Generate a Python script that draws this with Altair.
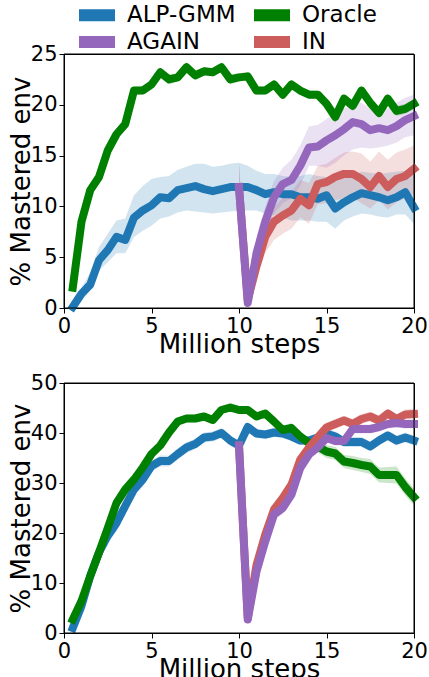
import altair as alt
import pandas as pd

SERIES = ["ALP-GMM", "Oracle", "AGAIN", "IN"]
COLORS = ["#1f77b4", "#008000", "#9467bd", "#cd5c5c"]

STEPS = [0.5, 1.0, 1.5, 2.0, 2.5, 3.0, 3.5, 4.0, 4.5, 5.0,
         5.5, 6.0, 6.5, 7.0, 7.5, 8.0, 8.5, 9.0, 9.5, 10.0,
         10.5, 11.0, 11.5, 12.0, 12.5, 13.0, 13.5, 14.0, 14.5, 15.0,
         15.5, 16.0, 16.5, 17.0, 17.5, 18.0, 18.5, 19.0, 19.5, 20.0]
STEPS_FT = [10.0, 10.5, 11.0, 11.5, 12.0, 12.5, 13.0, 13.5, 14.0, 14.5, 15.0,
            15.5, 16.0, 16.5, 17.0, 17.5, 18.0, 18.5, 19.0, 19.5, 20.0]

# ---- top panel ----
TOP_ALP = [0.1, 1.4, 2.3, 4.7, 5.7, 7.0, 6.7, 8.9, 9.6, 10.1,
           10.9, 10.8, 11.6, 11.8, 12.0, 11.7, 11.5, 11.7, 11.9, 11.9,
           11.9, 11.6, 11.2, 11.4, 11.2, 11.2, 10.9, 10.9, 10.75, 11.1,
           9.8, 10.4, 10.9, 11.3, 11.1, 10.9, 10.6, 10.9, 11.4, 9.9]
TOP_ALP_LO = [0.0, 1.0, 1.8, 3.7, 4.5, 5.4, 5.4, 7.0, 7.6, 8.1,
              8.8, 9.0, 9.4, 9.6, 9.5, 9.4, 9.3, 9.4, 9.5, 9.6,
              9.6, 9.6, 9.3, 9.1, 8.9, 8.6, 8.6, 8.6, 8.5, 8.5,
              7.8, 8.6, 9.0, 9.3, 9.2, 9.0, 8.9, 9.2, 9.2, 8.3]
TOP_ALP_HI = [0.3, 2.0, 3.5, 6.0, 7.3, 8.6, 8.8, 11.1, 12.0, 12.7,
              12.9, 13.0, 13.6, 13.9, 14.2, 14.2, 13.9, 14.0, 14.2, 14.3,
              14.0, 13.5, 13.2, 13.2, 13.0, 12.9, 13.0, 13.2, 13.0, 12.9,
              12.4, 12.9, 13.1, 13.4, 13.3, 13.2, 13.3, 13.4, 13.5, 13.4]

TOP_ORACLE = [2.0, 8.5, 11.6, 12.9, 15.5, 17.1, 18.1, 21.4, 21.4, 22.0,
              23.2, 22.5, 22.7, 23.7, 22.9, 23.3, 23.2, 23.7, 22.5, 22.7,
              22.8, 21.4, 21.4, 22.0, 21.0, 22.0, 21.4, 21.0, 21.0, 20.1,
              18.8, 20.6, 19.9, 21.4, 20.2, 19.2, 20.6, 19.4, 19.6, 20.1]
TOP_ORACLE_LO = [1.8, 8.2, 11.2, 12.5, 15.1, 16.7, 17.7, 21.0, 21.0, 21.6,
                 22.8, 22.0, 22.3, 23.2, 22.4, 22.9, 22.8, 23.3, 22.0, 22.3,
                 22.4, 21.0, 21.0, 21.6, 20.6, 21.6, 21.0, 20.6, 20.6, 19.6,
                 18.2, 20.1, 19.4, 20.9, 19.7, 18.7, 20.1, 18.9, 19.1, 19.6]
TOP_ORACLE_HI = [2.2, 8.8, 12.0, 13.3, 15.9, 17.5, 18.5, 21.8, 21.8, 22.4,
                 23.6, 23.0, 23.1, 24.2, 23.4, 23.7, 23.6, 24.1, 23.0, 23.1,
                 23.2, 21.8, 21.8, 22.4, 21.4, 22.4, 21.8, 21.4, 21.4, 20.6,
                 19.4, 21.1, 20.4, 21.9, 20.7, 19.7, 21.1, 19.9, 20.1, 20.6]

TOP_AGAIN = [11.9, 0.5, 5.4, 8.5, 10.9, 12.2, 12.6, 14.0, 15.8, 15.9, 16.5,
             17.0, 17.6, 18.3, 18.1, 17.5, 17.7, 17.5, 17.9, 18.5, 18.9]
TOP_AGAIN_LO = [9.6, 0.3, 3.7, 6.5, 9.3, 10.3, 10.8, 12.0, 14.0, 14.0, 13.8,
                14.3, 15.0, 15.6, 15.8, 15.7, 15.8, 16.0, 16.3, 16.8, 17.0]
TOP_AGAIN_HI = [14.3, 0.8, 7.0, 10.0, 12.5, 13.8, 14.6, 16.0, 17.9, 18.0, 18.6,
                19.2, 19.6, 20.2, 20.2, 19.6, 19.8, 19.6, 20.2, 20.7, 21.0]

TOP_IN = [11.9, 0.8, 4.1, 7.0, 8.5, 9.1, 9.6, 10.75, 10.1, 12.2, 12.4,
          12.9, 13.2, 13.2, 12.7, 11.9, 13.0, 11.9, 12.7, 13.0, 13.7]
TOP_IN_LO = [9.6, 0.4, 3.0, 5.4, 6.7, 7.3, 7.8, 8.9, 8.3, 10.2, 10.3,
             10.6, 10.8, 10.9, 10.3, 9.8, 10.6, 9.7, 10.4, 10.8, 11.2]
TOP_IN_HI = [14.3, 1.2, 6.0, 8.6, 9.9, 10.8, 11.4, 12.6, 12.3, 14.0, 14.2,
             14.8, 15.3, 15.4, 15.2, 14.4, 15.4, 14.6, 15.3, 15.6, 16.0]

# ---- bottom panel ----
BOT_ALP = [1.0, 5.4, 11.4, 16.1, 19.4, 22.0, 25.4, 28.7, 30.7, 33.4,
           34.4, 34.4, 35.8, 37.1, 37.8, 39.1, 39.3, 40.0, 38.5, 37.5,
           41.2, 39.9, 39.7, 40.1, 39.9, 39.3, 38.5, 38.5, 39.1, 39.9,
           39.3, 38.2, 38.2, 38.2, 37.3, 38.5, 39.5, 38.5, 39.1, 38.5]
BOT_ALP_LO = [0.6, 4.9, 10.8, 15.3, 18.2, 20.3, 23.9, 27.6, 29.7, 32.3,
              33.3, 33.3, 34.7, 36.0, 36.8, 38.1, 38.3, 39.0, 37.4, 36.6,
              40.3, 39.0, 38.8, 39.2, 39.0, 38.4, 37.6, 37.6, 38.2, 39.0,
              38.3, 37.2, 37.2, 37.2, 36.3, 37.5, 38.5, 37.5, 38.1, 37.5]
BOT_ALP_HI = [1.4, 5.9, 12.0, 16.9, 20.6, 23.7, 26.9, 29.8, 31.7, 34.5,
              35.5, 35.5, 36.9, 38.2, 38.8, 40.1, 40.3, 41.0, 39.6, 38.4,
              42.1, 40.8, 40.6, 41.0, 40.8, 40.2, 39.4, 39.4, 40.0, 40.8,
              40.3, 39.2, 39.2, 39.2, 38.3, 39.5, 40.5, 39.5, 40.1, 39.5]

BOT_ORACLE = [2.7, 6.4, 11.4, 16.1, 21.0, 26.0, 28.7, 30.7, 33.1, 35.8,
              37.5, 40.1, 42.3, 42.9, 42.9, 43.3, 42.6, 44.6, 45.1, 44.6,
              44.6, 43.3, 43.9, 42.3, 40.6, 41.0, 39.3, 38.0, 37.3, 36.3,
              35.9, 34.3, 34.0, 33.6, 33.3, 31.6, 31.6, 31.6, 29.2, 27.2]
BOT_ORACLE_LO = [2.2, 5.8, 10.7, 15.3, 20.2, 25.2, 27.9, 29.9, 32.3, 35.0,
                 36.7, 39.3, 41.5, 42.1, 42.1, 42.5, 41.8, 43.8, 44.3, 43.8,
                 43.8, 42.5, 43.1, 41.4, 39.7, 40.0, 38.3, 36.9, 36.1, 35.0,
                 34.6, 33.0, 32.6, 32.2, 31.8, 30.1, 30.0, 29.9, 27.5, 25.5]
BOT_ORACLE_HI = [3.2, 7.0, 12.1, 16.9, 21.8, 26.8, 29.5, 31.5, 33.9, 36.6,
                 38.3, 40.9, 43.1, 43.7, 43.7, 44.1, 43.4, 45.4, 45.9, 45.4,
                 45.4, 44.1, 44.7, 43.2, 41.5, 42.0, 40.3, 39.1, 38.5, 37.6,
                 37.2, 35.6, 35.4, 35.0, 34.8, 33.1, 33.2, 33.3, 30.9, 28.9]

BOT_AGAIN = [37.5, 2.7, 12.3, 18.3, 23.7, 25.0, 27.7, 33.0, 35.7, 37.1, 39.0,
             38.4, 38.4, 40.8, 40.8, 40.8, 41.2, 41.8, 42.0, 41.8, 41.8]
BOT_AGAIN_LO = [37.0, 2.2, 11.5, 17.3, 22.7, 23.8, 26.6, 31.9, 34.7, 36.2, 38.1,
                37.5, 37.5, 39.9, 39.9, 39.9, 40.3, 40.9, 41.1, 40.9, 40.9]
BOT_AGAIN_HI = [38.5, 3.2, 13.1, 19.3, 24.7, 26.2, 28.8, 34.1, 36.7, 38.0, 39.9,
                39.3, 39.3, 41.7, 41.7, 41.7, 42.1, 42.7, 42.9, 42.7, 42.7]

BOT_IN = [37.5, 3.0, 13.6, 19.7, 24.7, 27.0, 29.7, 34.7, 37.1, 39.1, 41.1,
          41.8, 42.5, 41.8, 42.8, 43.3, 42.5, 43.9, 42.8, 43.7, 43.8]
BOT_IN_LO = [37.0, 2.5, 12.8, 18.8, 23.8, 26.0, 28.7, 33.7, 36.1, 38.1, 40.1,
             40.8, 41.5, 40.8, 41.8, 42.3, 41.5, 42.9, 41.8, 42.7, 42.7]
BOT_IN_HI = [38.5, 3.5, 14.4, 20.6, 25.6, 28.0, 30.7, 35.7, 38.1, 40.1, 42.1,
             42.8, 43.5, 42.8, 43.8, 44.3, 43.5, 44.9, 43.8, 44.7, 44.9]

X_TICKS = [0, 5, 10, 15, 20]
TOP_Y_TICKS = [0, 5, 10, 15, 20, 25]
BOT_Y_TICKS = [0, 10, 20, 30, 40, 50]

# legend entries (two columns, row-major), placed above the top panel in data units
LEGEND_SERIES = ["ALP-GMM", "Oracle", "AGAIN", "IN"]
LEGEND_STEP = [1.886, 11.886, 1.886, 11.886]
LEGEND_LEVEL = [28.81, 28.81, 26.18, 26.18]

FONT = "DejaVu Sans"


def frame(parts):
    rows = []
    for name, steps, val, lo, hi in parts:
        for s, v, l, h in zip(steps, val, lo, hi):
            rows.append({"step": s, "series": name, "value": v, "lo": l, "hi": h})
    return pd.DataFrame(rows)


top_df = frame([
    ("ALP-GMM", STEPS, TOP_ALP, TOP_ALP_LO, TOP_ALP_HI),
    ("Oracle", STEPS, TOP_ORACLE, TOP_ORACLE_LO, TOP_ORACLE_HI),
    ("IN", STEPS_FT, TOP_IN, TOP_IN_LO, TOP_IN_HI),
    ("AGAIN", STEPS_FT, TOP_AGAIN, TOP_AGAIN_LO, TOP_AGAIN_HI),
])
bot_df = frame([
    ("ALP-GMM", STEPS, BOT_ALP, BOT_ALP_LO, BOT_ALP_HI),
    ("Oracle", STEPS, BOT_ORACLE, BOT_ORACLE_LO, BOT_ORACLE_HI),
    ("IN", STEPS_FT, BOT_IN, BOT_IN_LO, BOT_IN_HI),
    ("AGAIN", STEPS_FT, BOT_AGAIN, BOT_AGAIN_LO, BOT_AGAIN_HI),
])
legend_df = pd.DataFrame({"series": LEGEND_SERIES, "step": LEGEND_STEP, "level": LEGEND_LEVEL})


def make_axis(values, title, label_pad, title_pad):
    return alt.Axis(
        values=values, title=title, grid=False, tickSize=5, tickColor="black",
        domainColor="black", labelColor="black", titleColor="black",
        labelFont=FONT, titleFont=FONT, labelFontSize=21, titleFontSize=26,
        titleFontWeight="normal", labelFlush=False, labelPadding=label_pad,
        titlePadding=title_pad,
    )


def colour(channel):
    return channel("series:N", scale=alt.Scale(domain=SERIES, range=COLORS), legend=None)


def panel(df, ymax, yticks, h, with_legend):
    xs = alt.Scale(domain=[0, 20], nice=False)
    ys = alt.Scale(domain=[0, ymax], nice=False)
    xa = make_axis(X_TICKS, "Million steps", 2, -5)
    ya = make_axis(yticks, "% Mastered env", 2, -4)
    base = alt.Chart(df)
    band = base.mark_area(fillOpacity=0.2).encode(
        x=alt.X("step:Q", scale=xs, axis=xa),
        y=alt.Y("lo:Q", scale=ys, axis=ya),
        y2="hi:Q",
        fill=colour(alt.Fill),
    )
    line = base.mark_line(strokeWidth=8, strokeJoin="round", strokeCap="square").encode(
        x=alt.X("step:Q", axis=xa),
        y=alt.Y("value:Q", axis=ya),
        color=colour(alt.Color),
    )
    box_df = pd.DataFrame({"x0": [0], "x1": [20], "y0": [0], "y1": [ymax]})
    box = alt.Chart(box_df).mark_rect(fill="transparent", stroke="black", strokeWidth=1).encode(
        x=alt.X("x0:Q", axis=xa), x2="x1:Q",
        y=alt.Y("y0:Q", axis=ya), y2="y1:Q",
    )
    layers = [band, line, box]
    if with_legend:
        lg = alt.Chart(legend_df)
        swatch = lg.mark_tick(orient="horizontal", size=36, thickness=12, opacity=1).encode(
            x=alt.X("step:Q", axis=xa),
            y=alt.Y("level:Q", axis=ya),
            color=colour(alt.Color),
        )
        label = lg.mark_text(align="left", baseline="middle", dx=30, font=FONT,
                             fontSize=23, color="black").encode(
            x=alt.X("step:Q", axis=xa),
            y=alt.Y("level:Q", axis=ya),
            text="series:N",
        )
        layers += [swatch, label]
    return alt.layer(*layers).properties(width=350, height=h)


top = panel(top_df, 25, TOP_Y_TICKS, 254, True)
bottom = panel(bot_df, 50, BOT_Y_TICKS, 250, False)

chart = alt.vconcat(top, bottom, spacing=13).resolve_scale(
    y="independent", color="independent", fill="independent"
).properties(
    padding={"left": 7, "top": 3, "right": 0, "bottom": 0}
).configure_view(stroke="black", strokeWidth=1)

chart.save("out.html", embed_options={"renderer": "svg", "actions": False})
